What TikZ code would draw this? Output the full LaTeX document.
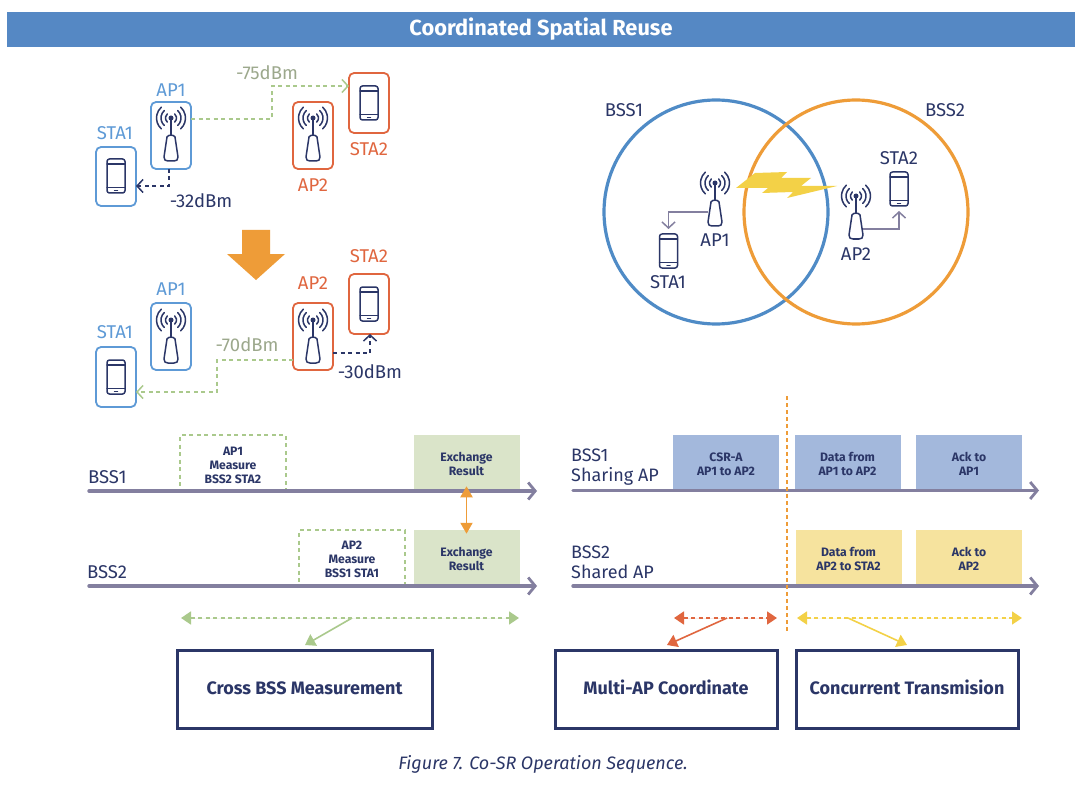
\documentclass[tikz,border=0pt]{standalone}
\usepackage{fontspec}
\setmainfont{Fira Sans}
\usetikzlibrary{arrows.meta,calc}
\definecolor{hdr}{HTML}{5588C4}
\definecolor{bluec}{HTML}{5E9AD6}
\definecolor{redc}{HTML}{E0663F}
\definecolor{orangec}{HTML}{EE9C38}
\definecolor{circb}{HTML}{4F8BC6}
\definecolor{greenc}{HTML}{AAC98C}
\definecolor{greyt}{HTML}{9CA88C}
\definecolor{navy}{HTML}{2B3667}
\definecolor{linec}{HTML}{837F9F}
\definecolor{exch}{HTML}{DAE4C9}
\definecolor{bfill}{HTML}{A3B8DC}
\definecolor{yfill}{HTML}{F6E39E}
\definecolor{yarrow}{HTML}{F3D147}
\newcommand\nudged[2]{\raisebox{#1}[\height][\depth]{\begin{tabular}{@{}c@{}}#2\end{tabular}}}
\tikzset{
  x=1pt,y=-1pt,
  iconline/.style={draw=navy,line width=1.5pt,line cap=round,line join=round},
  pics/antenna/.style={code={
    \draw[iconline] (0,0)--(0,17);
    \fill[navy] (0,0) circle (2.5);
    \foreach \r in {5.5,10,14.5}{
      \draw[iconline] (48:\r) arc (48:-48:\r);
      \draw[iconline] (132:\r) arc (132:228:\r);
    }
    \draw[iconline] (-4,19) .. controls (-3,16.5) and (3,16.5) .. (4,19) -- (7,39)
      .. controls (7.5,42) and (5,43) .. (3,43) -- (-3,43)
      .. controls (-5,43) and (-7.5,42) .. (-7,39) -- cycle;
  }},
  pics/phone/.style={code={
    \draw[iconline,rounded corners=2.5] (-9,-17) rectangle (9,17);
    \draw[iconline,line width=1.1pt] (-9,-12)--(9,-12) (-9,11.5)--(9,11.5);
    \draw[iconline] (-1.5,14.3)--(1.5,14.3);
  }},
  devbox/.style={rounded corners=5,line width=1.8pt,minimum width=40,minimum height=#1,inner sep=0,outer sep=0,fill=white},
  lab/.style={font=\fontsize{18.5}{20}\selectfont,inner sep=0},
  darklab/.style={lab,text=navy},
  ghost/.style={inner sep=0,outer sep=0,minimum width=#1},
  slot/.style={minimum width=106,minimum height=54.5,inner sep=0,outer sep=0,align=center,text=navy,
    font=\fontsize{12.2}{13.8}\selectfont\bfseries},
  dashslot/.style={slot,draw=greenc,line width=1.3pt,dash pattern=on 4 off 3.5},
  gdash/.style={draw=greenc,line width=1.6pt,dash pattern=on 4 off 3.5,-{Straight Barb[length=6,width=13,line width=1.5pt]}},
  ndash/.style={draw=navy,line width=1.6pt,dash pattern=on 4 off 3.5,-{Straight Barb[length=6,width=13,line width=1.5pt]}},
  timeline/.style={draw=linec,line width=3.4pt,line cap=round,-{Straight Barb[length=7,width=17,line width=2.8pt]}},
  routed/.style={draw=linec,line width=1.5pt,-{Straight Barb[length=6,width=13,line width=1.5pt]}},
  span/.style={line width=1.6pt,dash pattern=on 4 off 3.5,{Triangle[length=10,width=13]}-{Triangle[length=10,width=13]}},
  lead/.style={line width=1.6pt,-{Triangle[length=10,width=13]}},
  phase/.style={draw=navy,line width=3pt,minimum height=78,inner sep=0,outer sep=0,text=navy,
    font=\fontsize{18}{21}\selectfont\bfseries},
}
\begin{document}
\begin{tikzpicture}
\useasboundingbox (0,0) rectangle (1080,797);
\fill[white] (0,0) rectangle (1080,797);
% header
\node[fill=hdr,text=white,minimum width=1068,minimum height=35,inner sep=0,font=\fontsize{21.8}{25}\selectfont\bfseries] (title) at (541,29.5) {Coordinated Spatial Reuse};

% upper-left scene
\node[devbox=67,draw=bluec] (ap1a) at (171,135.5) {};
\node[devbox=59,draw=bluec] (sta1a) at (116,176.5) {};
\node[devbox=67,draw=redc] (ap2a) at (313,135.5) {};
\node[devbox=60,draw=redc] (sta2a) at (369,103) {};
\pic at (171,118) {antenna};
\pic at (116,176) {phone};
\pic at (313,118) {antenna};
\pic at (369,103) {phone};
\node[lab,text=bluec] (lap1a) at (171,90) {AP1};
\node[lab,text=bluec] (lsta1a) at (115,133) {STA1};
\node[lab,text=redc] (lap2a) at (313,185) {AP2};
\node[lab,text=redc] (lsta2a) at (369,149) {STA2};
\node[lab,text=greyt] (l75) at (267,73) {-75dBm};
\node[darklab] (l32) at (201,201) {-32dBm};
\draw[gdash] (ap1a.east |- 0,119) -- (272,119) |- (sta2a.west |- 0,86);
\draw[ndash] (ap1a.south -| 169,0) |- (sta1a.east |- 0,186);

% big arrow
\fill[orangec] (242,230)--(270,230)--(270,254)--(285,254)--(256,280)--(227,254)--(242,254)--cycle;

% lower-left scene
\node[devbox=67,draw=bluec] (ap1b) at (171,336.5) {};
\node[devbox=60,draw=bluec] (sta1b) at (116,377) {};
\node[devbox=67,draw=redc] (ap2b) at (313,336.5) {};
\node[devbox=60,draw=redc] (sta2b) at (369,304) {};
\pic at (171,320) {antenna};
\pic at (116,377) {phone};
\pic at (313,320) {antenna};
\pic at (369,304) {phone};
\node[lab,text=bluec] (lap1b) at (171,289) {AP1};
\node[lab,text=bluec] (lsta1b) at (115,332) {STA1};
\node[lab,text=redc] (lap2b) at (313,283) {AP2};
\node[lab,text=redc] (lsta2b) at (369,256) {STA2};
\node[lab,text=greyt] (l70) at (247,345) {-70dBm};
\node[darklab] (l30) at (370,372) {-30dBm};
\draw[gdash] (ap2b.west |- 0,360) -- (217,360) |- (sta1b.east |- 0,392);
\draw[ndash] (ap2b.east |- 0,353) -| (sta2b.south -| 370,0);

% venn
\node[draw=circb,line width=3.2pt,circle,minimum size=224,inner sep=0] (bss1c) at (716,212) {};
\node[draw=orangec,line width=3.2pt,circle,minimum size=224,inner sep=0] (bss2c) at (856,212) {};
\fill[yarrow] (736,188)--(755,173)--(787,172)--(781,178)--(811,178)--(801,186)--(837,186)--(787,198)--(793,192)--(762,193)--(768,188)--cycle;
\pic at (715,183) {antenna};
\pic at (856,196) {antenna};
\pic at (668.5,251) {phone};
\pic at (899,189) {phone};
\node[ghost=14,minimum height=26] (rap1) at (715,212) {};
\node[ghost=14,minimum height=26] (rap2) at (856,222) {};
\node[ghost=18,minimum height=34] (rsta1) at (668.5,251) {};
\node[ghost=18,minimum height=34] (rsta2) at (899,189) {};
\draw[routed,shorten >=5pt] (rap1.west) -| (rsta1.north);
\draw[routed,shorten >=5pt] ($(rap2.east)+(0,7)$) -| (rsta2.south);
\node[darklab] (lrap1) at (715,240) {AP1};
\node[darklab] (lrsta1) at (668,282) {STA1};
\node[darklab] (lrap2) at (856,254) {AP2};
\node[darklab] (lrsta2) at (899,158) {STA2};
\node[darklab] (lbss1) at (624,110) {BSS1};
\node[darklab] (lbss2) at (945,110) {BSS2};

% left timeline
\node[dashslot,minimum height=56] (m1) at (233,463) {\nudged{-3.5pt}{AP1\\Measure\\BSS2 STA2}};
\node[dashslot,minimum height=55] (m2) at (352,557.5) {\nudged{-3.5pt}{AP2\\Measure\\BSS1 STA1}};
\node[slot,fill=exch] (ex1) at (466.5,462) {\nudged{-3.5pt}{Exchange\\Result}};
\node[slot,fill=exch] (ex2) at (466.5,557) {\nudged{-3.5pt}{Exchange\\Result}};
\coordinate (ls1) at (89,491); \coordinate (le1) at (537,491);
\coordinate (ls2) at (89,586); \coordinate (le2) at (537,586);
\draw[timeline] (ls1) -- (le1);
\draw[timeline] (ls2) -- (le2);
\node[darklab,anchor=west] (lb1) at (88,477) {BSS1};
\node[darklab,anchor=west] (lb2) at (87,572) {BSS2};
\draw[draw=orangec,line width=1.9pt,{Triangle[length=11,width=12]}-{Triangle[length=11,width=12]}] ($(ex1.south)+(0,-3)$) -- ($(ex2.north)+(0,4)$);

% right timeline
\node[slot,fill=bfill] (csr) at (726,462) {\nudged{-3.5pt}{CSR-A\\AP1 to AP2}};
\node[slot,fill=bfill] (d1) at (847.5,462) {\nudged{-3.5pt}{Data from\\AP1 to AP2}};
\node[slot,fill=bfill] (a1) at (969,462) {\nudged{-3.5pt}{Ack to\\AP1}};
\node[slot,fill=yfill] (d2) at (848.5,557) {\nudged{-3.5pt}{Data from\\AP2 to STA2}};
\node[slot,fill=yfill] (a2) at (969,557) {\nudged{-3.5pt}{Ack to\\AP2}};
\coordinate (rs1) at (573,490.5); \coordinate (re1) at (1039,490.5);
\coordinate (rs2) at (573,586); \coordinate (re2) at (1039,586);
\draw[timeline] (rs1) -- (re1);
\draw[timeline] (rs2) -- (re2);
\node[darklab,anchor=west,align=left,font=\fontsize{18}{20}\selectfont] (lr1) at (571,467) {BSS1\\Sharing AP};
\node[darklab,anchor=west,align=left,font=\fontsize{18}{20}\selectfont] (lr2) at (571,562) {BSS2\\Shared AP};
\coordinate (vt) at (787,396); \coordinate (vb) at (787,633);
\draw[orangec,line width=1.5pt,dash pattern=on 4 off 3] (vt) -- (vb);

% bottom boxes
\node[phase,minimum width=255] (cross) at (304.5,689.5) {\nudged{-1pt}{Cross BSS Measurement}};
\node[phase,minimum width=222] (multi) at (666,689.5) {\nudged{-1pt}{Multi-AP Coordinate}};
\node[phase,minimum width=222] (conc) at (907,689.5) {\nudged{-1pt}{Concurrent Transmision}};

% span arrows
\coordinate (gl) at (181,618); \coordinate (gr) at (519,618); \coordinate (gm) at (352,618); \coordinate (gt) at (305,645);
\draw[span,draw=greenc,fill=greenc] (gl) -- (gr);
\draw[lead,draw=greenc,fill=greenc] (gm) -- (gt);
\coordinate (rl) at (674,618); \coordinate (rr) at (777,618); \coordinate (rm) at (727,618); \coordinate (rt) at (667,645);
\draw[span,draw=redc,fill=redc] (rl) -- (rr);
\draw[lead,draw=redc,fill=redc] (rm) -- (rt);
\coordinate (yl) at (797,618); \coordinate (yr) at (1022,618); \coordinate (ym) at (848,618); \coordinate (yt) at (907,645);
\draw[span,draw=yarrow,fill=yarrow] (yl) -- (yr);
\draw[lead,draw=yarrow,fill=yarrow] (ym) -- (yt);

\node[text=navy,inner sep=0,font=\fontsize{18}{21}\selectfont\itshape] (cap) at (543,764) {Figure 7. Co-SR Operation Sequence.};
\end{tikzpicture}
\end{document}
